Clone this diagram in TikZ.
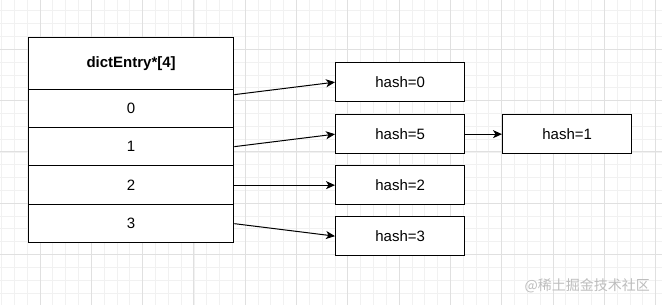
\documentclass[tikz,border=0pt]{standalone}
\usepackage{fontspec}
\setmainfont{Liberation Sans}
\newfontfamily\cjk{Noto Sans CJK SC}
\usetikzlibrary{arrows.meta}
\definecolor{gridminor}{HTML}{F1F1F1}
\definecolor{gridmajor}{HTML}{E0E0E0}
\definecolor{wmark}{HTML}{BDBDBD}
\begin{document}
\begin{tikzpicture}[x=1pt,y=-1pt,
  cell/.style={draw=black, line width=1.3pt, fill=white, minimum width=205pt, inner sep=0pt, anchor=north west, font=\fontsize{15}{18}\selectfont},
  hashbox/.style={draw=black, line width=1.3pt, fill=white, minimum width=129pt, minimum height=39pt, inner sep=0pt, anchor=north west, font=\fontsize{15}{18}\selectfont},
  link/.style={line width=1pt, -{Stealth[length=9pt,width=8pt,inset=2.5pt]}}]
\useasboundingbox (0,0) rectangle (662,305);
\fill[white] (0,0) rectangle (662,305);
\begin{scope}
\clip (0,0) rectangle (662,305);
\foreach \i in {0,...,52} \draw[gridminor, line width=0.8pt] (1.525+\i*12.825,0) -- (1.525+\i*12.825,305);
\foreach \i in {0,...,24} \draw[gridminor, line width=0.8pt] (0,-2+\i*12.825) -- (662,-2+\i*12.825);
\foreach \i in {0,...,12} \draw[gridmajor, line width=0.9pt] (40+\i*51.3,0) -- (40+\i*51.3,305);
\foreach \i in {0,...,6} \draw[gridmajor, line width=0.9pt] (0,-2+\i*51.3) -- (662,-2+\i*51.3);
\end{scope}
% table
\node[cell, minimum height=52pt, font=\fontsize{15}{18}\selectfont\bfseries] (hdr) at (28,37) {dictEntry*[4]};
\node[cell, minimum height=38pt] (r0) at (28,89) {0};
\node[cell, minimum height=38pt] (r1) at (28,127) {1};
\node[cell, minimum height=39pt] (r2) at (28,165) {2};
\node[cell, minimum height=38pt] (r3) at (28,204) {3};
% hash boxes
\node[hashbox] (h0) at (335,62) {hash=0};
\node[hashbox] (h5) at (335,114) {hash=5};
\node[hashbox] (h2) at (335,165) {hash=2};
\node[hashbox] (h3) at (335,216) {hash=3};
\node[hashbox] (h1) at (502,114) {hash=1};
% links
\draw[link] ([yshift=14pt]r0.east) -- (h0.west);
\draw[link] (r1.east) -- (h5.west);
\draw[link] (r2.east) -- (h2.west);
\draw[link] (r3.east) -- (h3.west);
\draw[link] (h5.east) -- (h1.west);
% watermark
\node[anchor=east, inner sep=0pt, text=wmark, font=\cjk\fontsize{14}{17}\selectfont] (wm) at (650,286) {@稀土掘金技术社区};
\end{tikzpicture}
\end{document}
